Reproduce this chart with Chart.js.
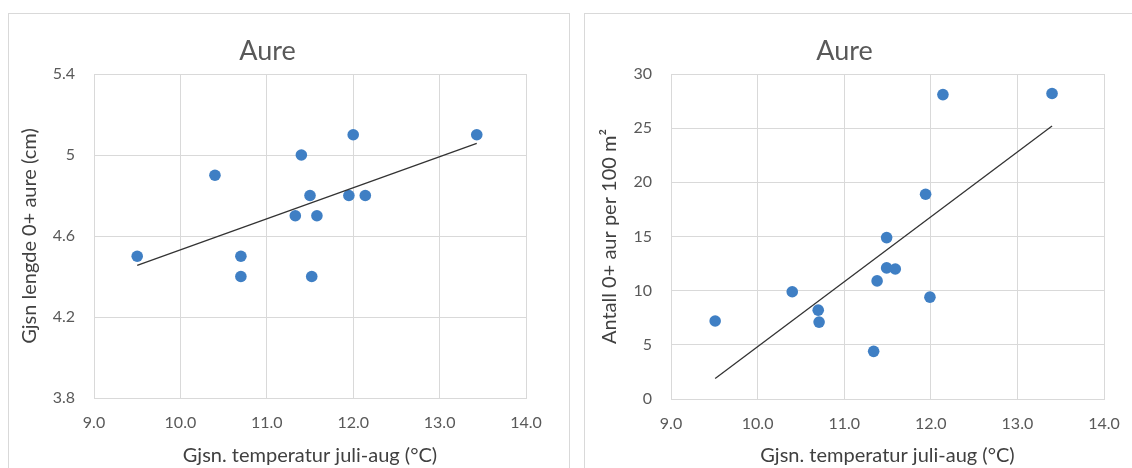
<!DOCTYPE html>
<html><head><meta charset="utf-8">
<script src="https://cdn.jsdelivr.net/npm/chart.js@4.4.0/dist/chart.umd.min.js"></script>
<style>
html,body{margin:0;padding:0;background:#fff;overflow:hidden;width:1132px;height:468px;position:relative;}
.panel{position:absolute;top:13px;border:1px solid #d9d9d9;background:#fff;height:470px;}
#p1{left:8px;width:560px;}
#p2{left:584px;width:563px;}
canvas{display:block;}
</style></head><body>
<div class="panel" id="p1"><canvas id="c1" width="560" height="454" style="width:560px;height:454px"></canvas></div>
<div class="panel" id="p2"><canvas id="c2" width="563" height="454" style="width:563px;height:454px"></canvas></div>
<script>
// ---- data ----
const chartTitle = 'Aure';
const xAxisTitle = 'Gjsn. temperatur juli-aug (°C)';
const xTickLabels = ['9.0', '10.0', '11.0', '12.0', '13.0', '14.0'];

const lengthTitle = 'Gjsn lengde 0+ aure (cm)';
const lengthTemp = [9.5, 10.4, 10.7, 10.7, 11.33, 11.4, 11.5, 11.58, 11.52, 11.95, 12.0, 12.14, 13.43];
const lengthValues = [4.5, 4.9, 4.5, 4.4, 4.7, 5.0, 4.8, 4.7, 4.4, 4.8, 5.1, 4.8, 5.1];
const lengthTickLabels = ['3.8', '4.2', '4.6', '5', '5.4'];
const lengthTrendX = [9.5, 13.43];
const lengthTrendY = [4.455, 5.057];

const densityTitle = 'Antall 0+ aur per 100 m²';
const densityTemp = [9.51, 10.40, 10.70, 10.71, 11.34, 11.38, 11.49, 11.49, 11.59, 11.94, 11.99, 12.14, 13.40];
const densityValues = [7.2, 9.9, 8.2, 7.1, 4.4, 10.9, 14.9, 12.1, 12.0, 18.9, 9.4, 28.1, 28.2];
const densityTickLabels = ['0', '5', '10', '15', '20', '25', '30'];
const densityTrendX = [9.51, 13.40];
const densityTrendY = [1.9, 25.2];

// ---- styling ----
Chart.defaults.font.family = 'Lato, "Open Sans", sans-serif';
const gridColor = '#d9d9d9';
const pointColor = '#3f7fc4';
const tickColor = '#595959';
const titleColor = '#404040';

function pairs(xs, ys) { return xs.map((x, i) => ({x: x, y: ys[i]})); }

function makeChart(id, xs, ys, tx, ty, yMin, yMax, yStep, yLabels, yTitle, yWidth, xHeight, padRight, yTitlePad) {
  return new Chart(document.getElementById(id), {
    type: 'scatter',
    data: {
      datasets: [
        {
          data: pairs(tx, ty), showLine: true, borderColor: '#333333', borderWidth: 1.3,
          pointRadius: 0, pointHoverRadius: 0, fill: false
        },
        {
          data: pairs(xs, ys), backgroundColor: pointColor, borderColor: pointColor,
          borderWidth: 0, pointRadius: 5.8, pointHoverRadius: 5.8
        }
      ]
    },
    options: {
      responsive: false, animation: false,
      layout: { padding: { left: 0, top: 0, right: padRight, bottom: 0 } },
      plugins: {
        legend: { display: false }, tooltip: { enabled: false },
        title: {
          display: true, text: chartTitle, color: '#595959',
          font: { size: 27, weight: 'normal' },
          padding: { top: 21, bottom: 6.6 }
        }
      },
      scales: {
        x: {
          type: 'linear', min: 9, max: 14,
          ticks: { stepSize: 1, color: tickColor, font: { size: 16 }, padding: 15,
                   callback: (v, i) => xTickLabels[i] },
          grid: { color: gridColor, drawTicks: false, lineWidth: 1 },
          border: { color: gridColor },
          title: { display: true, text: xAxisTitle, color: titleColor, font: { size: 20 },
                   padding: { top: 0, bottom: 0 } },
          afterFit: (s) => { s.height = xHeight; }
        },
        y: {
          type: 'linear', min: yMin, max: yMax,
          ticks: { stepSize: yStep, color: tickColor, font: { size: 16 }, padding: 19,
                   callback: (v, i) => yLabels[i] },
          grid: { color: gridColor, drawTicks: false, lineWidth: 1 },
          border: { color: gridColor },
          title: { display: true, text: yTitle, color: titleColor, font: { size: 20 },
                   padding: { top: yTitlePad, bottom: 0 } },
          afterFit: (s) => { s.width = yWidth; }
        }
      }
    }
  });
}

makeChart('c1', lengthTemp, lengthValues, lengthTrendX, lengthTrendY, 3.8, 5.4, 0.4,
          lengthTickLabels, lengthTitle, 85, 70, 43, 9);
makeChart('c2', densityTemp, densityValues, densityTrendX, densityTrendY, 0, 30, 5,
          densityTickLabels, densityTitle, 86, 69, 44, 13);
</script>
</body></html>
